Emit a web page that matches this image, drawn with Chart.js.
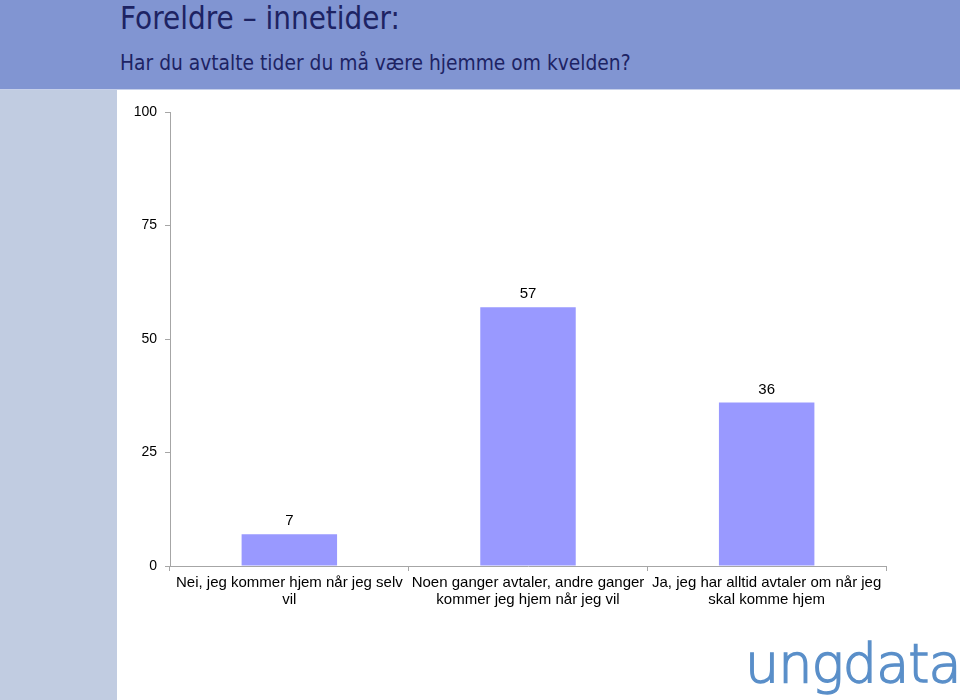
<!DOCTYPE html>
<html>
<head>
<meta charset="utf-8">
<script src="https://cdn.jsdelivr.net/npm/chart.js@4"></script>
<style>
  html, body { margin: 0; padding: 0; }
  body { width: 960px; height: 700px; position: relative; overflow: hidden; background: #fff; }
  #header { position: absolute; left: 0; top: 0; width: 960px; height: 89px; background: #8195d2; border-bottom: 1px solid #c6d0ea; }
  #strip { position: absolute; left: 0; top: 90px; width: 117px; height: 610px; background: #c1cce1; }
  .title { position: absolute; left: 120px; top: 2px; font: 32px/1 "DejaVu Sans", sans-serif; color: #1d2363; white-space: nowrap; transform: scaleX(0.873); transform-origin: 0 0; }
  .subtitle { position: absolute; left: 120px; top: 53px; font: 21px/1 "DejaVu Sans", sans-serif; color: #1d2363; white-space: nowrap; transform: scaleX(0.89); transform-origin: 0 0; }
  #logo { position: absolute; left: 745px; top: 637px; font: 200 54px/1 "DejaVu Sans", sans-serif; color: #5a8fc9; -webkit-text-stroke: 1.4px #5a8fc9; letter-spacing: -1px; white-space: nowrap; }
  #wrap { position: absolute; left: 0; top: 0; width: 960px; height: 700px; }
</style>
</head>
<body>
<div id="header"></div>
<div id="strip"></div>
<div class="title">Foreldre – innetider:</div>
<div class="subtitle">Har du avtalte tider du må være hjemme om kvelden?</div>
<div id="logo">ungdata</div>
<div id="wrap"><canvas id="chart" width="960" height="700"></canvas></div>

<script>
// Data
const categories = [
  ['Nei, jeg kommer hjem når jeg selv', 'vil'],
  ['Noen ganger avtaler, andre ganger', 'kommer jeg hjem når jeg vil'],
  ['Ja, jeg har alltid avtaler om når jeg', 'skal komme hjem']
];
const percentages = [7, 57, 36];
const yTicks = [0, 25, 50, 75, 100];

const axisGrey = '#a6a6a6';
const fontFamily = '"Liberation Sans", Arial, sans-serif';

// Value labels drawn above each bar
const valueLabels = {
  id: 'valueLabels',
  afterDatasetsDraw(chart) {
    const ctx = chart.ctx;
    const meta = chart.getDatasetMeta(0);
    ctx.save();
    ctx.font = '15px ' + fontFamily;
    ctx.fillStyle = '#000';
    ctx.textAlign = 'center';
    ctx.textBaseline = 'alphabetic';
    meta.data.forEach((bar, i) => {
      ctx.fillText(String(percentages[i]), bar.x, bar.y - 9);
    });
    ctx.restore();
  }
};

new Chart(document.getElementById('chart'), {
  type: 'bar',
  data: {
    labels: categories,
    datasets: [{
      data: percentages,
      backgroundColor: '#9999ff',
      borderWidth: 0,
      categoryPercentage: 1,
      barPercentage: 0.4
    }]
  },
  options: {
    responsive: false,
    animation: false,
    layout: { padding: { top: 112, right: 74, left: 0, bottom: 0 } },
    plugins: {
      legend: { display: false },
      tooltip: { enabled: false }
    },
    scales: {
      x: {
        offset: true,
        grid: { offset: true, drawOnChartArea: false, drawTicks: true, tickLength: 5, color: axisGrey },
        border: { color: axisGrey },
        ticks: { color: '#000', font: { family: fontFamily, size: 15, lineHeight: 1.15 }, padding: 3, autoSkip: false, maxRotation: 0 },
        afterFit(scale) { scale.height = 134; }
      },
      y: {
        min: 0,
        max: 100,
        afterBuildTicks(scale) { scale.ticks = yTicks.map(v => ({ value: v })); },
        grid: { drawOnChartArea: false, drawTicks: true, tickLength: 5, color: axisGrey },
        border: { color: axisGrey },
        ticks: { color: '#000', font: { family: fontFamily, size: 14 }, padding: 8 },
        afterFit(scale) { scale.width = 170; }
      }
    }
  },
  plugins: [valueLabels]
});
</script>
</body>
</html>
